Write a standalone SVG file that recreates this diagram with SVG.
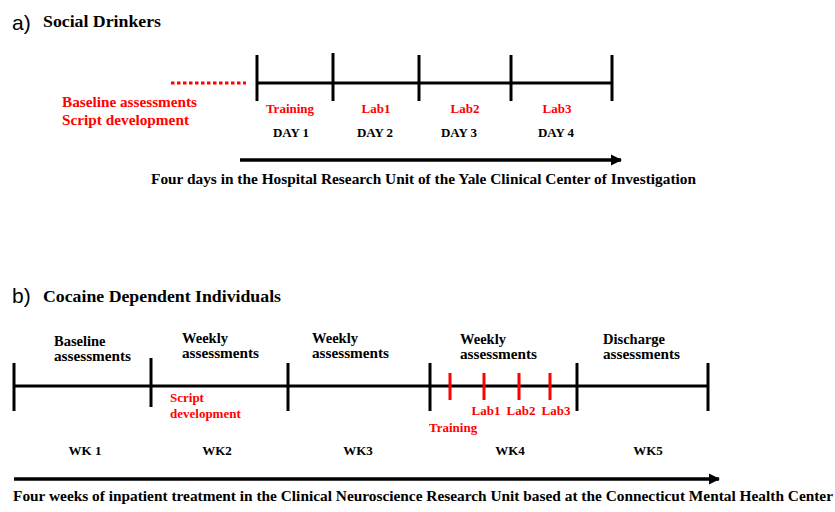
<svg xmlns="http://www.w3.org/2000/svg" width="835" height="512" viewBox="0 0 835 512">
<defs>
<style>
.lbl{font-family:"Liberation Sans",Arial,sans-serif;font-size:21px;fill:#000}
.ttl{font-family:"Liberation Serif","Times New Roman",serif;font-weight:bold;font-size:17.5px;fill:#000}
.blk{font-family:"Liberation Serif","Times New Roman",serif;font-weight:bold;font-size:13px;fill:#000}
.blk15{font-family:"Liberation Serif","Times New Roman",serif;font-weight:bold;font-size:14.5px;fill:#000}
.red{font-family:"Liberation Serif","Times New Roman",serif;font-weight:bold;font-size:13px;fill:#ff0000}
.red15{font-family:"Liberation Serif","Times New Roman",serif;font-weight:bold;font-size:15.5px;fill:#ff0000}
.ln{stroke:#000;stroke-width:3;fill:none}
.rl{stroke:#ff0000;stroke-width:3;fill:none}
.mid{text-anchor:middle}
</style>
<marker id="ah" viewBox="0 0 10 10" refX="9" refY="5" markerWidth="3.4" markerHeight="3.2" orient="auto" markerUnits="strokeWidth">
<path d="M0,0 L10,5 L0,10 z" fill="#000"/>
</marker>
</defs>

<g id="panel-a">
<text class="lbl" x="12" y="30">a)</text>
<text class="ttl" x="43" y="27" textLength="118" lengthAdjust="spacingAndGlyphs">Social Drinkers</text>
</g>

<g id="connectors-a">
<line class="rl" x1="171" y1="83" x2="246" y2="83" stroke-dasharray="3.5,2.5"/>
<line class="ln" x1="257" y1="83" x2="612" y2="83"/>
<line class="ln" x1="257" y1="55" x2="257" y2="101"/>
<line class="ln" x1="333" y1="53" x2="333" y2="101"/>
<line class="ln" x1="419" y1="55" x2="419" y2="101"/>
<line class="ln" x1="511" y1="55" x2="511" y2="101"/>
<line class="ln" x1="612" y1="55" x2="612" y2="101"/>
<line x1="240" y1="160" x2="621" y2="160" stroke="#000" stroke-width="3.5" marker-end="url(#ah)"/>
</g>

<g id="a-baseline">
<text class="red15" x="62" y="107" textLength="135" lengthAdjust="spacingAndGlyphs">Baseline assessments</text>
<text class="red15" x="62" y="125" textLength="127" lengthAdjust="spacingAndGlyphs">Script development</text>
</g>
<g id="a-day1"><text class="red mid" x="290" y="113">Training</text><text class="blk mid" x="291" y="137">DAY 1</text></g>
<g id="a-day2"><text class="red mid" x="376" y="113">Lab1</text><text class="blk mid" x="375" y="137">DAY 2</text></g>
<g id="a-day3"><text class="red mid" x="465" y="113">Lab2</text><text class="blk mid" x="459" y="137">DAY 3</text></g>
<g id="a-day4"><text class="red mid" x="557" y="113">Lab3</text><text class="blk mid" x="556" y="137">DAY 4</text></g>
<g id="a-caption">
<text class="blk15" x="151" y="184" textLength="545" lengthAdjust="spacingAndGlyphs">Four days in the Hospital Research Unit of the Yale Clinical Center of Investigation</text>
</g>

<g id="panel-b">
<text class="lbl" x="12" y="303">b)</text>
<text class="ttl" x="43" y="302" textLength="238" lengthAdjust="spacingAndGlyphs">Cocaine Dependent Individuals</text>
</g>

<g id="connectors-b">
<line class="ln" x1="14" y1="386" x2="709" y2="386"/>
<line class="ln" x1="14" y1="363" x2="14" y2="411"/>
<line class="ln" x1="151" y1="358" x2="151" y2="407"/>
<line class="ln" x1="288" y1="363" x2="288" y2="411"/>
<line class="ln" x1="430" y1="363" x2="430" y2="411"/>
<line class="ln" x1="577" y1="363" x2="577" y2="411"/>
<line class="ln" x1="708" y1="363" x2="708" y2="411"/>
<line class="rl" x1="450" y1="373" x2="450" y2="400"/>
<line class="rl" x1="484" y1="373" x2="484" y2="400"/>
<line class="rl" x1="519" y1="373" x2="519" y2="400"/>
<line class="rl" x1="550" y1="373" x2="550" y2="400"/>
<line x1="14" y1="479" x2="719" y2="479" stroke="#000" stroke-width="3.5" marker-end="url(#ah)"/>
</g>

<g id="b-wk1">
<text class="blk15" x="54" y="346">Baseline</text>
<text class="blk15" x="54" y="361" textLength="77" lengthAdjust="spacingAndGlyphs">assessments</text>
<text class="blk mid" x="85" y="455">WK 1</text>
</g>
<g id="b-wk2">
<text class="blk15" x="182" y="343">Weekly</text>
<text class="blk15" x="182" y="358" textLength="77" lengthAdjust="spacingAndGlyphs">assessments</text>
<text class="red" x="170" y="402">Script</text>
<text class="red" x="170" y="418">development</text>
<text class="blk mid" x="217" y="455">WK2</text>
</g>
<g id="b-wk3">
<text class="blk15" x="312" y="343">Weekly</text>
<text class="blk15" x="312" y="358" textLength="77" lengthAdjust="spacingAndGlyphs">assessments</text>
<text class="blk mid" x="358" y="455">WK3</text>
</g>
<g id="b-wk4">
<text class="blk15" x="460" y="344">Weekly</text>
<text class="blk15" x="460" y="359" textLength="77" lengthAdjust="spacingAndGlyphs">assessments</text>
<text class="red" x="429" y="432">Training</text>
<text class="red mid" x="486" y="415">Lab1</text>
<text class="red mid" x="521" y="415">Lab2</text>
<text class="red mid" x="556" y="415">Lab3</text>
<text class="blk mid" x="510" y="455">WK4</text>
</g>
<g id="b-wk5">
<text class="blk15" x="603" y="344">Discharge</text>
<text class="blk15" x="603" y="359" textLength="77" lengthAdjust="spacingAndGlyphs">assessments</text>
<text class="blk mid" x="648" y="455">WK5</text>
</g>
<g id="b-caption">
<text class="blk15" x="13" y="501" textLength="820" lengthAdjust="spacingAndGlyphs">Four weeks of inpatient treatment in the Clinical Neuroscience Research Unit based at the Connecticut Mental Health Center</text>
</g>
</svg>
